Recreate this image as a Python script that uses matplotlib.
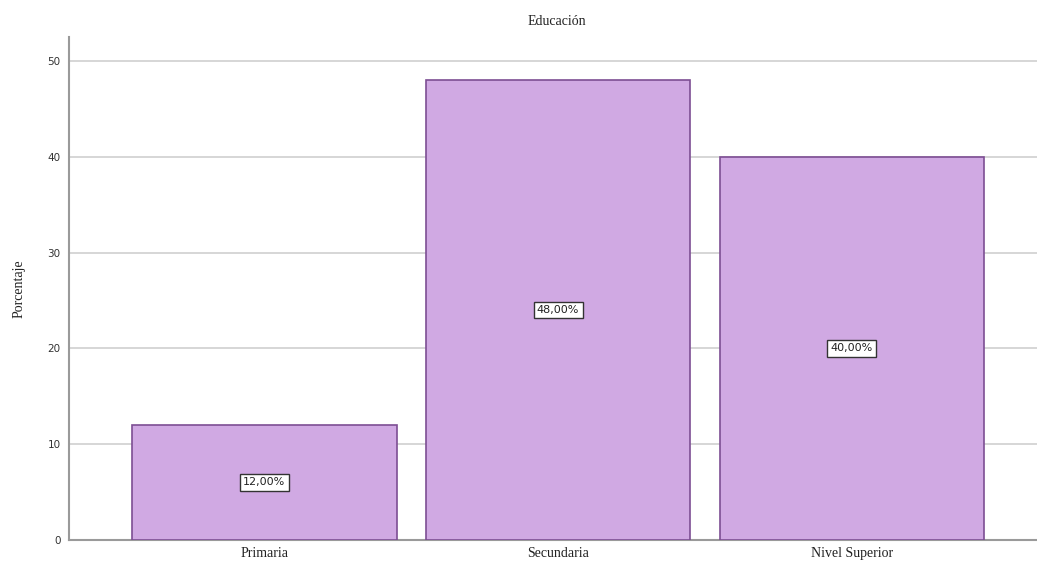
import matplotlib
matplotlib.use("Agg")
import matplotlib.pyplot as plt

categories = ["Primaria", "Secundaria", "Nivel Superior"]
values = [12.0, 48.0, 40.0]
labels = ["12,00%", "48,00%", "40,00%"]
yticks = [0, 10, 20, 30, 40, 50]

fig = plt.figure(figsize=(10.37, 5.69), dpi=100)
ax = fig.add_axes([0.0665, 0.051, 0.9335, 0.884])

x = list(range(len(categories)))
ax.bar(x, values, width=0.9, color="#D0A9E3", edgecolor="#7D4E93", linewidth=1.2, zorder=3)
for xi, v, lab in zip(x, values, labels):
    ax.text(xi, v / 2, lab, ha="center", va="center", fontsize=8, family="DejaVu Sans",
            color="#222222", zorder=4,
            bbox=dict(boxstyle="square,pad=0.3", facecolor="white", edgecolor="#333333", linewidth=1.0))

ax.set_xlim(-0.665, 2.63)
ax.set_ylim(0, 52.5)
ax.set_yticks(yticks)
ax.set_yticklabels([str(t) for t in yticks], fontsize=7.5, family="DejaVu Sans", color="#333333")
ax.set_xticks(x)
ax.set_xticklabels(categories, fontsize=10, family="Liberation Serif", color="#222222")
ax.yaxis.grid(True, color="#cfcfcf", linewidth=1.2, zorder=0)
ax.set_axisbelow(True)
for s in ["top", "right"]:
    ax.spines[s].set_visible(False)
ax.spines["left"].set_color("#9a9a9a")
ax.spines["left"].set_linewidth(1.5)
ax.spines["bottom"].set_color("#9a9a9a")
ax.spines["bottom"].set_linewidth(1.5)
ax.tick_params(axis="y", length=0, pad=6)
ax.tick_params(axis="x", length=0, pad=5)

ax.set_ylabel("Porcentaje", fontsize=10, family="Liberation Serif", color="#222222", labelpad=16)
fig.text(0.5374, 0.962, "Educación", ha="center", va="center", fontsize=10, family="Liberation Serif", color="#222222")

fig.savefig("out.png", dpi=100)
